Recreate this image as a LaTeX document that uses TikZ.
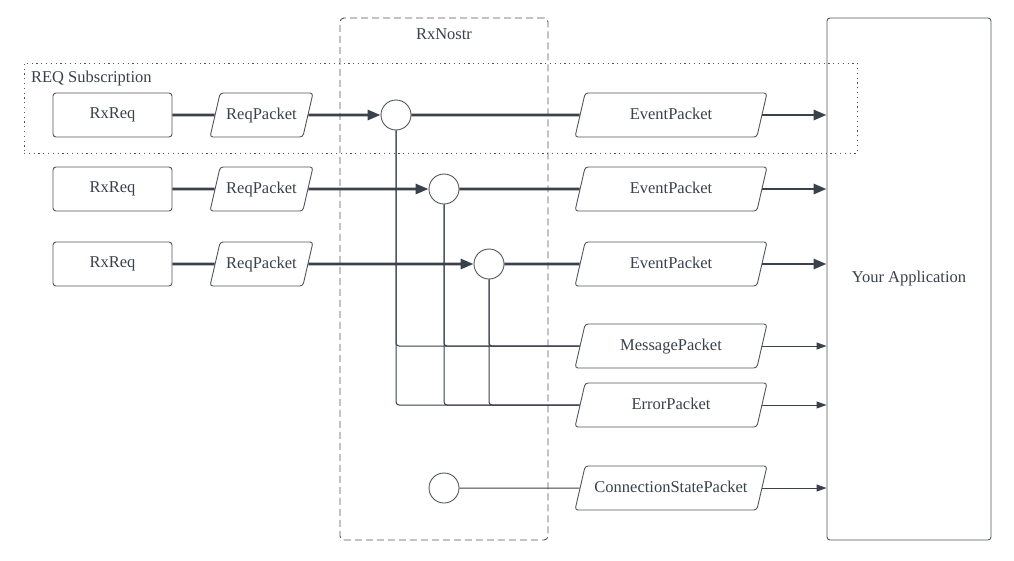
\documentclass[tikz,border=0pt]{standalone}
\usepackage{fontspec}
\setmainfont{Liberation Serif}
\usetikzlibrary{shapes.geometric, arrows.meta, positioning}
\definecolor{ink}{HTML}{3A414B}
\definecolor{edge}{HTML}{50555D}

\begin{document}
\begin{tikzpicture}[x=1pt, y=-1pt,
        font=\fontsize{16.5}{19}\selectfont, text=ink,
        box/.style = {draw=edge, line width=0.9pt, rounded corners=3pt, minimum width=119pt, minimum height=44pt},
        pkt/.style = {draw=edge, line width=0.9pt, trapezium, trapezium left angle=77, trapezium right angle=103, trapezium stretches body, rounded corners=3pt, text height=12pt, text depth=4pt, inner ysep=14pt, inner xsep=0pt},
        hub/.style = {draw=edge, line width=0.9pt, circle, minimum size=30pt, inner sep=0pt},
        feed/.style = {draw=ink, line width=2.8pt},
        feedarrow/.style = {feed, -{Triangle[length=13pt,width=10pt]}},
        link/.style = {draw=ink, line width=1pt, rounded corners=3pt},
        linkarrow/.style = {link, -{Triangle[length=10pt,width=7pt]}}]
        \useasboundingbox[fill=white] (0,0) rectangle (1014,560);
        \node[draw=edge, line width=0.9pt, dash pattern=on 1.2pt off 3.6pt, minimum width=833pt, minimum height=90pt] (sub) at (440.5,108) {};
        \node[below right=5pt and 4pt of sub.north west] (sublabel) {REQ Subscription};
        \node[draw=edge, line width=0.9pt, dash pattern=on 7pt off 4pt, rounded corners=4pt, minimum width=208pt, minimum height=522pt] (nostr) at (444,279) {};
        \node[below=8pt of nostr.north] (nostrlabel) {RxNostr};
        \node[box, minimum width=164pt, minimum height=522pt] (app) at (909,279) {Your Application};
        \node[box] (req1) at (112.5,115) {RxReq};
        \node[box] (req2) at (112.5,189) {RxReq};
        \node[box] (req3) at (112.5,264) {RxReq};
        \node[pkt, minimum width=103pt] (rp1) at (261.5,115) {ReqPacket};
        \node[pkt, minimum width=103pt] (rp2) at (261.5,189) {ReqPacket};
        \node[pkt, minimum width=103pt] (rp3) at (261.5,264) {ReqPacket};
        \node[hub] (h1) at (396,115) {};
        \node[hub] (h2) at (444,189) {};
        \node[hub] (h3) at (489,264) {};
        \node[hub] (h4) at (444,488) {};
        \node[pkt, minimum width=192pt] (ev1) at (671,115) {EventPacket};
        \node[pkt, minimum width=192pt] (ev2) at (671,189) {EventPacket};
        \node[pkt, minimum width=192pt] (ev3) at (671,264) {EventPacket};
        \node[pkt, minimum width=192pt] (msg) at (671,346) {MessagePacket};
        \node[pkt, minimum width=192pt] (err) at (671,405) {ErrorPacket};
        \node[pkt, minimum width=192pt] (conn) at (671,488) {ConnectionStatePacket};
        \draw[feed] (req1) -- (rp1);
        \draw[feed] (req2) -- (rp2);
        \draw[feed] (req3) -- (rp3);
        \draw[feedarrow] (rp1) -- (h1);
        \draw[feedarrow] (rp2) -- (h2);
        \draw[feedarrow] (rp3) -- (h3);
        \draw[feed] (h1) -- (ev1);
        \draw[feed] (h2) -- (ev2);
        \draw[feed] (h3) -- (ev3);
        \draw[feedarrow] (ev1) -- (ev1 -| app.west);
        \draw[feedarrow] (ev2) -- (ev2 -| app.west);
        \draw[feedarrow] (ev3) -- (ev3 -| app.west);
        \draw[link] (h1) |- (msg);
        \draw[link] (h2) |- (msg);
        \draw[link] (h3) |- (msg);
        \draw[link] (h1) |- (err);
        \draw[link] (h2) |- (err);
        \draw[link] (h3) |- (err);
        \draw[link] (h4) -- (conn);
        \draw[linkarrow] (msg) -- (msg -| app.west);
        \draw[linkarrow] (err) -- (err -| app.west);
        \draw[linkarrow] (conn) -- (conn -| app.west);
\end{tikzpicture}
\end{document}
